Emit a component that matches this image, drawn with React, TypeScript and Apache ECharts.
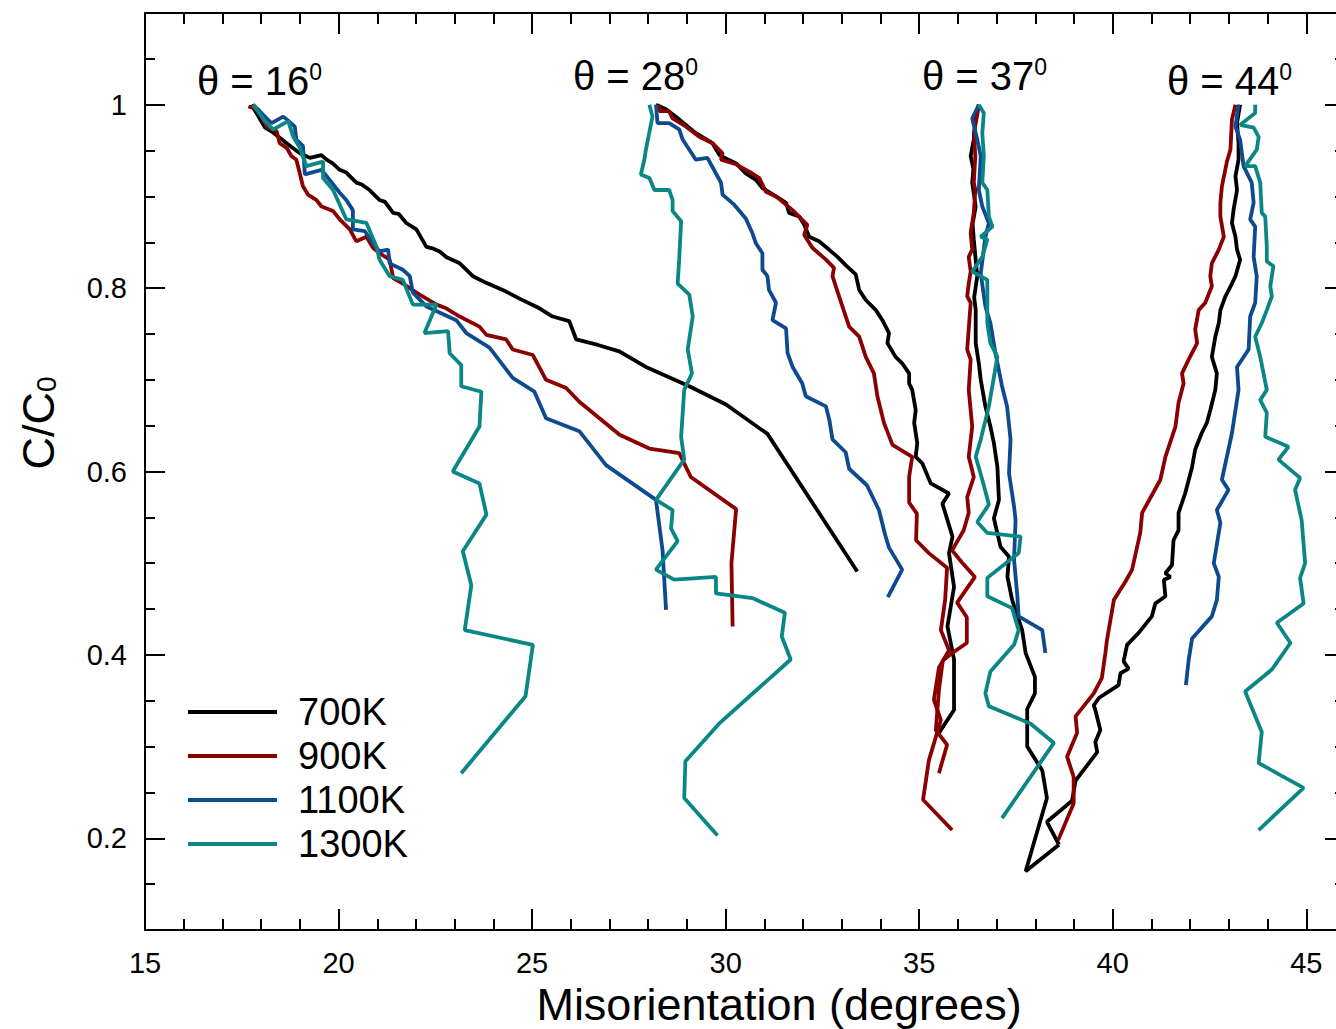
import React, { useEffect, useRef } from 'react';
import * as echarts from 'echarts';

const FONT = '"Liberation Sans", Arial, Helvetica, sans-serif';

const temps = ['700K', '900K', '1100K', '1300K'];
const colors = ['#000000', '#8B0000', '#0D4A8F', '#0A8686'];

const xMajorTicks = [15, 20, 25, 30, 35, 40, 45];
const xMinorTicks = [16, 17, 18, 19, 21, 22, 23, 24, 26, 27, 28, 29, 31, 32, 33, 34, 36, 37, 38, 39, 41, 42, 43, 44];
const yMajorTicks = [0.2, 0.4, 0.6, 0.8, 1];
const yMinorTicks = [0.15, 0.25, 0.3, 0.35, 0.45, 0.5, 0.55, 0.65, 0.7, 0.75, 0.85, 0.9, 0.95, 1.05];
const thetaLabels = ['16', '28', '37', '44'];

// ---- theta = 16 ----
const black16 = [
  [17.75, 1.0], [17.88, 0.991], [18.1, 0.975], [18.3, 0.97], [18.66, 0.958], [19.0, 0.947], [19.26, 0.942],
  [19.56, 0.945], [19.69, 0.94], [19.85, 0.936], [20.03, 0.929], [20.2, 0.926], [20.46, 0.915], [20.6, 0.913],
  [20.8, 0.907], [21.06, 0.896], [21.2, 0.894], [21.41, 0.882], [21.55, 0.881], [21.75, 0.871], [22.01, 0.864],
  [22.27, 0.845], [22.45, 0.843], [22.61, 0.84], [22.78, 0.834], [23.13, 0.827], [23.47, 0.813], [23.8, 0.806],
  [24.24, 0.798], [24.7, 0.788], [25.19, 0.778], [25.53, 0.769], [25.96, 0.764], [26.14, 0.744], [26.7, 0.738],
  [27.25, 0.731], [27.94, 0.714], [29.06, 0.693], [30.01, 0.673], [31.08, 0.641], [33.4, 0.491],
];
const red16 = [
  [17.67, 0.998], [17.92, 0.995], [18.14, 0.976], [18.4, 0.971], [18.48, 0.958], [18.66, 0.953], [18.78, 0.944],
  [18.91, 0.94], [19.0, 0.925], [19.08, 0.911], [19.21, 0.902], [19.43, 0.896], [19.56, 0.889], [19.86, 0.884],
  [20.03, 0.875], [20.29, 0.864], [20.46, 0.851], [20.72, 0.856], [20.89, 0.844], [21.06, 0.838], [21.32, 0.831],
  [21.41, 0.811], [21.66, 0.805], [22.01, 0.795], [22.53, 0.782], [22.78, 0.778], [23.13, 0.769], [23.64, 0.758],
  [23.82, 0.749], [24.33, 0.744], [24.5, 0.733], [25.02, 0.727], [25.36, 0.7], [25.88, 0.691], [26.22, 0.676],
  [27.26, 0.64], [28.03, 0.625], [28.8, 0.62], [29.1, 0.594], [30.27, 0.559], [30.15, 0.5], [30.18, 0.431],
];
const blue16 = [
  [17.79, 1.0], [18.14, 0.985], [18.27, 0.98], [18.57, 0.987], [18.66, 0.984], [18.87, 0.976], [18.91, 0.962],
  [19.08, 0.955], [19.13, 0.924], [19.56, 0.929], [19.77, 0.918], [20.03, 0.904], [20.2, 0.896], [20.37, 0.885],
  [20.37, 0.864], [20.68, 0.862], [20.89, 0.849], [21.06, 0.84], [21.28, 0.842], [21.32, 0.827], [21.66, 0.82],
  [21.84, 0.813], [21.92, 0.795], [22.27, 0.78], [23.04, 0.765], [23.3, 0.751], [23.9, 0.735], [24.5, 0.702],
  [25.06, 0.687], [25.36, 0.658], [26.22, 0.644], [26.91, 0.607], [28.2, 0.569], [28.37, 0.514], [28.46, 0.449],
];
const teal16 = [
  [17.79, 1.0], [18.1, 0.982], [18.31, 0.973], [18.7, 0.982], [18.83, 0.965], [19.0, 0.953], [19.17, 0.933],
  [19.6, 0.938], [19.6, 0.92], [19.86, 0.907], [20.2, 0.875], [20.72, 0.871], [20.98, 0.845], [21.06, 0.831],
  [21.32, 0.813], [21.66, 0.809], [21.92, 0.782], [22.53, 0.782], [22.22, 0.751], [22.83, 0.753], [22.87, 0.729],
  [23.17, 0.716], [23.17, 0.693], [23.69, 0.687], [23.64, 0.649], [22.95, 0.6], [23.64, 0.587], [23.82, 0.553],
  [23.21, 0.513], [23.43, 0.476], [23.26, 0.427], [25.02, 0.411], [24.83, 0.355], [23.17, 0.271],
];

// ---- theta = 28 ----
const black28 = [
  [28.2, 1.0], [28.46, 0.995], [28.8, 0.984], [29.23, 0.969], [29.66, 0.958], [29.84, 0.945], [30.27, 0.936],
  [30.52, 0.925], [30.78, 0.918], [30.95, 0.909], [31.3, 0.9], [31.56, 0.893], [31.64, 0.882], [31.9, 0.878],
  [32.03, 0.869], [32.16, 0.856], [32.41, 0.851], [32.67, 0.842], [32.89, 0.834], [33.1, 0.825], [33.36, 0.815],
  [33.45, 0.798], [33.62, 0.787], [33.88, 0.776], [34.05, 0.765], [34.22, 0.751], [34.18, 0.74], [34.39, 0.725],
  [34.56, 0.718], [34.74, 0.707], [34.74, 0.696], [34.82, 0.689], [34.91, 0.667], [34.87, 0.653], [34.95, 0.631],
  [34.91, 0.616], [35.08, 0.609], [35.3, 0.587], [35.77, 0.576], [35.6, 0.565], [35.86, 0.529], [35.77, 0.511],
  [35.9, 0.474], [35.73, 0.431], [35.9, 0.395], [35.9, 0.34], [35.51, 0.315],
];
const red28 = [
  [28.29, 1.0], [28.29, 0.993], [28.54, 0.993], [28.63, 0.985], [28.98, 0.976], [29.32, 0.965], [29.66, 0.958],
  [29.92, 0.947], [29.88, 0.94], [30.27, 0.935], [30.69, 0.925], [30.87, 0.92], [31.04, 0.905], [31.3, 0.9],
  [31.73, 0.885], [31.94, 0.876], [32.11, 0.869], [32.03, 0.858], [32.24, 0.844], [32.59, 0.831], [32.8, 0.822],
  [32.76, 0.813], [32.93, 0.791], [33.19, 0.758], [33.45, 0.747], [33.62, 0.725], [33.83, 0.707], [33.92, 0.682],
  [34.09, 0.653], [34.31, 0.629], [34.82, 0.616], [34.74, 0.594], [34.74, 0.566], [34.94, 0.554], [34.92, 0.525],
  [35.25, 0.511], [35.72, 0.495], [35.67, 0.46], [35.56, 0.427], [35.77, 0.405], [35.51, 0.386], [35.38, 0.351],
  [35.56, 0.329], [35.25, 0.285], [35.1, 0.242], [35.85, 0.209],
];
const blue28 = [
  [28.2, 1.0], [28.24, 0.98], [28.54, 0.98], [28.8, 0.973], [28.89, 0.962], [29.23, 0.94], [29.53, 0.942],
  [29.75, 0.925], [29.88, 0.915], [29.92, 0.902], [30.22, 0.891], [30.52, 0.876], [30.69, 0.86], [30.78, 0.849],
  [30.95, 0.838], [30.95, 0.82], [31.08, 0.813], [31.12, 0.798], [31.3, 0.784], [31.21, 0.765], [31.56, 0.756],
  [31.6, 0.729], [31.73, 0.714], [31.98, 0.696], [32.07, 0.682], [32.59, 0.671], [32.68, 0.656], [32.76, 0.635],
  [33.1, 0.621], [33.19, 0.603], [33.65, 0.585], [33.96, 0.558], [34.12, 0.531], [34.22, 0.517], [34.56, 0.493],
  [34.19, 0.463],
];
const teal28 = [
  [28.03, 1.0], [28.11, 0.987], [27.94, 0.951], [27.9, 0.94], [27.81, 0.924], [28.03, 0.92], [28.16, 0.907],
  [28.54, 0.907], [28.63, 0.896], [28.63, 0.884], [28.85, 0.873], [28.8, 0.831], [28.76, 0.805], [29.06, 0.793],
  [29.15, 0.769], [29.02, 0.733], [29.13, 0.707], [28.93, 0.689], [28.85, 0.638], [28.93, 0.613], [28.2, 0.569],
  [28.63, 0.558], [28.59, 0.538], [28.76, 0.524], [28.2, 0.493], [28.67, 0.482], [29.75, 0.485], [29.75, 0.467],
  [30.69, 0.462], [31.53, 0.446], [31.45, 0.42], [31.68, 0.395], [29.83, 0.325], [28.96, 0.284], [28.93, 0.244],
  [29.79, 0.203],
];

// ---- theta = 37 ----
const black37 = [
  [36.54, 1.0], [36.46, 0.987], [36.41, 0.962], [36.33, 0.944], [36.4, 0.93], [36.37, 0.915], [36.46, 0.889],
  [36.38, 0.87], [36.41, 0.853], [36.5, 0.813], [36.42, 0.79], [36.46, 0.776], [36.46, 0.74], [36.54, 0.718],
  [36.59, 0.7], [36.71, 0.671], [36.84, 0.649], [36.93, 0.631], [37.02, 0.605], [37.06, 0.569], [36.93, 0.549],
  [37.1, 0.518], [37.32, 0.507], [37.28, 0.485], [37.4, 0.46], [37.66, 0.427], [37.75, 0.402], [37.99, 0.376],
  [37.99, 0.358], [37.79, 0.341], [37.79, 0.3], [38.18, 0.274], [38.3, 0.244], [37.75, 0.164], [38.61, 0.193],
];
const red37 = [
  [36.54, 1.0], [36.5, 0.989], [36.41, 0.969], [36.45, 0.944], [36.41, 0.915], [36.45, 0.907], [36.41, 0.882],
  [36.33, 0.86], [36.37, 0.842], [36.28, 0.834], [36.33, 0.818], [36.28, 0.805], [36.24, 0.791], [36.33, 0.784],
  [36.24, 0.733], [36.33, 0.722], [36.28, 0.689], [36.37, 0.649], [36.28, 0.616], [36.41, 0.594], [36.24, 0.572],
  [36.28, 0.555], [36.15, 0.536], [35.85, 0.514], [36.1, 0.501], [36.44, 0.485], [35.98, 0.457], [36.23, 0.441],
  [36.23, 0.413], [35.85, 0.402], [35.61, 0.394], [35.51, 0.362], [35.43, 0.318], [35.72, 0.302], [35.51, 0.271],
];
const blue37 = [
  [36.54, 1.0], [36.37, 0.985], [36.5, 0.962], [36.59, 0.944], [36.54, 0.907], [36.63, 0.889], [36.8, 0.871],
  [36.71, 0.856], [36.59, 0.816], [36.71, 0.78], [36.84, 0.762], [36.97, 0.729], [37.14, 0.693], [37.27, 0.671],
  [37.36, 0.635], [37.32, 0.598], [37.45, 0.562], [37.49, 0.547], [37.45, 0.504], [37.53, 0.467], [37.57, 0.442],
  [38.18, 0.427], [38.26, 0.402],
];
const teal37 = [
  [36.54, 1.0], [36.67, 0.991], [36.63, 0.969], [36.67, 0.944], [36.63, 0.915], [36.76, 0.907], [36.8, 0.878],
  [36.89, 0.867], [36.59, 0.856], [36.76, 0.853], [36.63, 0.834], [36.37, 0.818], [36.76, 0.809], [36.76, 0.762],
  [36.84, 0.74], [37.02, 0.725], [36.8, 0.671], [36.59, 0.635], [36.46, 0.616], [36.63, 0.591], [36.8, 0.564],
  [36.5, 0.545], [36.76, 0.533], [37.62, 0.529], [37.57, 0.511], [36.76, 0.484], [36.76, 0.464], [37.4, 0.451],
  [37.57, 0.427], [37.45, 0.411], [36.84, 0.382], [36.71, 0.358], [36.8, 0.344], [37.88, 0.325], [38.48, 0.304],
  [37.14, 0.222],
];

// ---- theta = 44 ----
const black44 = [
  [43.29, 1.0], [43.21, 0.98], [43.25, 0.958], [43.25, 0.94], [43.17, 0.922], [43.21, 0.907], [43.12, 0.885],
  [43.08, 0.871], [43.17, 0.856], [43.21, 0.842], [43.29, 0.831], [43.17, 0.813], [43.08, 0.805], [42.91, 0.791],
  [42.78, 0.776], [42.74, 0.762], [42.65, 0.747], [42.56, 0.725], [42.69, 0.707], [42.65, 0.689], [42.52, 0.667],
  [42.43, 0.653], [42.3, 0.642], [42.13, 0.624], [42.05, 0.605], [41.87, 0.576], [41.7, 0.555], [41.7, 0.536],
  [41.57, 0.525], [41.53, 0.498], [41.36, 0.489], [41.49, 0.485], [41.32, 0.482], [41.36, 0.464], [41.1, 0.456],
  [41.01, 0.442], [40.67, 0.424], [40.37, 0.411], [40.28, 0.393], [40.41, 0.385], [40.2, 0.38], [40.15, 0.367],
  [39.64, 0.353], [39.51, 0.345], [39.55, 0.34], [39.68, 0.318], [39.55, 0.305], [39.6, 0.294], [39.04, 0.263],
  [38.95, 0.241], [38.3, 0.218], [38.61, 0.193],
];
const red44 = [
  [43.17, 1.0], [43.08, 0.984], [43.04, 0.951], [42.95, 0.938], [42.82, 0.911], [42.78, 0.893], [42.78, 0.878],
  [42.87, 0.856], [42.74, 0.842], [42.56, 0.827], [42.52, 0.813], [42.56, 0.802], [42.39, 0.784], [42.22, 0.776],
  [42.13, 0.755], [42.18, 0.74], [41.96, 0.722], [41.79, 0.707], [41.83, 0.696], [41.7, 0.675], [41.62, 0.649],
  [41.36, 0.616], [41.23, 0.591], [40.76, 0.555], [40.71, 0.533], [40.5, 0.493], [40.33, 0.48], [40.03, 0.46],
  [39.85, 0.416], [39.81, 0.402], [39.72, 0.375], [39.51, 0.358], [39.04, 0.333], [39.08, 0.315], [38.82, 0.289],
  [38.99, 0.267], [38.99, 0.238], [38.59, 0.198],
];
const blue44 = [
  [43.25, 1.0], [43.17, 0.976], [43.29, 0.962], [43.38, 0.933], [43.59, 0.915], [43.64, 0.893], [43.55, 0.875],
  [43.68, 0.867], [43.64, 0.834], [43.72, 0.813], [43.68, 0.784], [43.55, 0.769], [43.51, 0.733], [43.21, 0.714],
  [43.25, 0.689], [43.08, 0.642], [42.82, 0.591], [42.99, 0.58], [42.69, 0.558], [42.78, 0.544], [42.61, 0.5],
  [42.74, 0.485], [42.69, 0.46], [42.56, 0.442], [42.05, 0.418], [41.96, 0.394], [41.89, 0.367],
];
const teal44 = [
  [43.68, 1.0], [43.68, 0.991], [43.29, 0.978], [43.64, 0.975], [43.77, 0.965], [43.72, 0.951], [43.42, 0.933],
  [43.68, 0.933], [43.81, 0.915], [43.85, 0.882], [43.94, 0.878], [43.98, 0.845], [43.98, 0.829], [44.15, 0.824],
  [44.07, 0.802], [44.11, 0.791], [43.98, 0.776], [43.85, 0.762], [43.68, 0.747], [43.81, 0.725], [43.98, 0.689],
  [43.81, 0.678], [43.98, 0.664], [43.94, 0.638], [44.54, 0.627], [44.28, 0.613], [44.84, 0.593], [44.71, 0.58],
  [44.88, 0.547], [44.97, 0.5], [44.84, 0.484], [44.93, 0.456], [44.24, 0.435], [44.59, 0.413], [44.11, 0.384],
  [43.42, 0.36], [43.85, 0.316], [43.77, 0.282], [44.93, 0.255], [43.77, 0.209],
];

const seriesByTemp = [
  [black16, black28, black37, black44],
  [red16, red28, red37, red44],
  [blue16, blue28, blue37, blue44],
  [teal16, teal28, teal37, teal44],
];

const X_MIN = 15;
const X_MAX = 46;
const Y_MIN = 0.1;
const Y_MAX = 1.1;

const axisStroke = { color: '#000', width: 2 };

function makeXAxis(position: string, ticks: number[], len: number, withLabels: boolean, withLine: boolean) {
  return {
    type: 'value',
    position,
    min: X_MIN,
    max: X_MAX,
    axisLine: { show: withLine, onZero: false, lineStyle: axisStroke },
    axisTick: { show: true, inside: true, length: len, customValues: ticks, lineStyle: axisStroke },
    axisLabel: withLabels
      ? { show: true, customValues: ticks, margin: 21, fontSize: 29, lineHeight: 24, color: '#000', fontFamily: FONT }
      : { show: false },
    splitLine: { show: false },
  };
}

function makeYAxis(position: string, ticks: number[], len: number, withLabels: boolean, withLine: boolean) {
  return {
    type: 'value',
    position,
    min: Y_MIN,
    max: Y_MAX,
    axisLine: { show: withLine, onZero: false, lineStyle: axisStroke },
    axisTick: { show: true, inside: true, length: len, customValues: ticks, lineStyle: axisStroke },
    axisLabel: withLabels
      ? { show: true, customValues: ticks, margin: 18, fontSize: 29, color: '#000', fontFamily: FONT }
      : { show: false },
    splitLine: { show: false },
  };
}

export default function App() {
  const ref = useRef<HTMLDivElement>(null);

  useEffect(() => {
    if (!ref.current) return;
    const chart = echarts.init(ref.current, undefined, { renderer: 'svg' });

    const series: any[] = [];
    seriesByTemp.forEach((curves, ti) => {
      curves.forEach((data) => {
        series.push({
          name: temps[ti],
          type: 'line',
          data,
          showSymbol: false,
          symbol: 'none',
          xAxisIndex: 0,
          yAxisIndex: 0,
          color: colors[ti],
          lineStyle: { color: colors[ti], width: 3.8 },
          emphasis: { disabled: true },
        });
      });
    });

    const thetaPos = [
      [197, 60],
      [573, 55],
      [922, 55],
      [1167, 60],
    ];

    const theta = thetaLabels.map((t, i) => ({
      type: 'text',
      x: thetaPos[i][0],
      y: thetaPos[i][1],
      style: {
        text: `{m|θ = ${t}}{s|0}`,
        rich: {
          m: { fontSize: 40, fontFamily: FONT, fill: '#000', lineHeight: 42 },
          s: { fontSize: 23, fontFamily: FONT, fill: '#000', verticalAlign: 'top', lineHeight: 24 },
        },
      },
    }));

    chart.setOption({
      animation: false,
      backgroundColor: '#fff',
      grid: { left: 145, top: 13, width: 1200, height: 917, containLabel: false },
      xAxis: [
        makeXAxis('bottom', xMajorTicks, 21, true, true),
        makeXAxis('bottom', xMinorTicks, 11, false, false),
        makeXAxis('top', xMajorTicks, 21, false, true),
        makeXAxis('top', xMinorTicks, 11, false, false),
      ],
      yAxis: [
        makeYAxis('left', yMajorTicks, 20, true, true),
        makeYAxis('left', yMinorTicks, 10, false, false),
        makeYAxis('right', yMajorTicks, 20, false, true),
        makeYAxis('right', yMinorTicks, 10, false, false),
      ],
      legend: {
        data: temps,
        orient: 'vertical',
        left: 183,
        top: 685,
        itemWidth: 89,
        itemHeight: 4,
        itemGap: 0,
        icon: 'rect',
        selectedMode: false,
        textStyle: { fontSize: 38, fontFamily: FONT, color: '#000', lineHeight: 44, padding: [0, 0, 0, 16] },
      },
      graphic: [
        ...theta,
        {
          type: 'text',
          x: 779,
          y: 1004,
          style: {
            text: 'Misorientation (degrees)',
            fontSize: 45,
            lineHeight: 40,
            fontFamily: FONT,
            fill: '#000',
            align: 'center',
            verticalAlign: 'middle',
          },
        },
        {
          type: 'text',
          x: 38,
          y: 423,
          rotation: Math.PI / 2,
          style: {
            text: '{m|C/C}{b|0}',
            align: 'center',
            verticalAlign: 'middle',
            rich: {
              m: { fontSize: 45, fontFamily: FONT, fill: '#000' },
              b: { fontSize: 28, fontFamily: FONT, fill: '#000', verticalAlign: 'bottom' },
            },
          },
        },
      ],
      series,
    });

    return () => chart.dispose();
  }, []);

  return (
    <div style={{ position: 'fixed', left: 0, top: 0, width: 1336, height: 1029, overflow: 'hidden', background: '#fff' }}>
      <div ref={ref} style={{ width: 1360, height: 1029 }} />
    </div>
  );
}
